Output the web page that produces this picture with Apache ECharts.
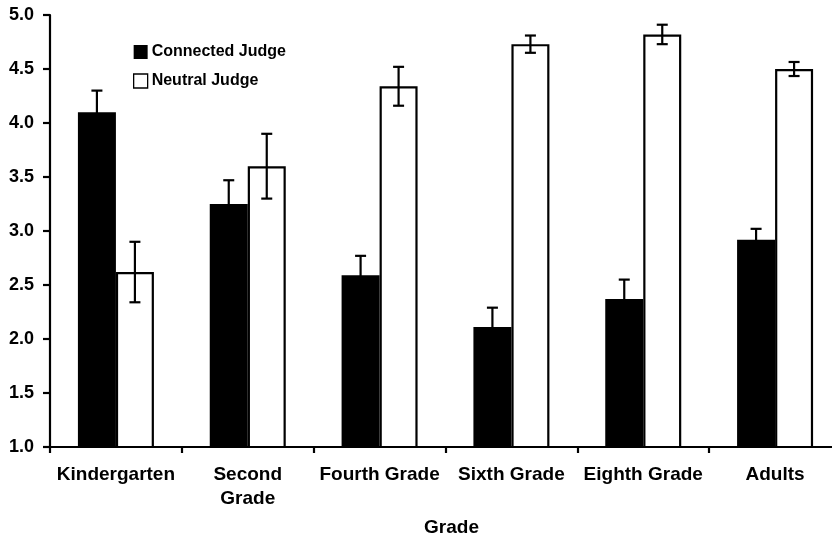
<!DOCTYPE html>
<html>
<head>
<meta charset="utf-8">
<script src="https://cdn.jsdelivr.net/npm/echarts@6/dist/echarts.min.js"></script>
<style>html,body{margin:0;padding:0;background:#fff;}#c{width:832px;height:540px;}</style>
</head>
<body>
<div id="c"></div>
<script>
var categories = ['Kindergarten', 'Second\nGrade', 'Fourth Grade', 'Sixth Grade', 'Eighth Grade', 'Adults'];
var connected = [4.10, 3.25, 2.59, 2.11, 2.37, 2.92];
var connectedErr = [0.20, 0.22, 0.18, 0.18, 0.18, 0.10];
var neutral = [2.62, 3.60, 4.34, 4.73, 4.82, 4.50];
var neutralErr = [0.28, 0.30, 0.18, 0.08, 0.09, 0.065];
var yTicks = [1.0, 1.5, 2.0, 2.5, 3.0, 3.5, 4.0, 4.5, 5.0];

var FONT = '"Liberation Sans", Arial, Helvetica, sans-serif';
var BAR_W = 38;

function errData(vals, errs) {
  return vals.map(function (v, i) { return [i, v, errs[i]]; });
}
function errRender(offset) {
  return function (params, api) {
    var i = api.value(0), v = api.value(1), e = api.value(2);
    var top = api.coord([i, v + e]);
    var bot = api.coord([i, v - e]);
    var x = top[0] + offset;
    var cap = 5.5;
    var st = { stroke: '#000', lineWidth: 2.2 };
    return {
      type: 'group',
      children: [
        { type: 'line', shape: { x1: x, y1: top[1], x2: x, y2: bot[1] }, style: st },
        { type: 'line', shape: { x1: x - cap, y1: top[1], x2: x + cap, y2: top[1] }, style: st },
        { type: 'line', shape: { x1: x - cap, y1: bot[1], x2: x + cap, y2: bot[1] }, style: st }
      ]
    };
  };
}

var chart = echarts.init(document.getElementById('c'), null, { renderer: 'canvas' });
chart.setOption({
  animation: false,
  backgroundColor: '#fff',
  textStyle: { fontFamily: FONT },
  legend: {
    orient: 'vertical',
    left: 133,
    top: 44,
    itemWidth: 14,
    itemHeight: 14,
    itemGap: 13,
    padding: 0,
    data: [
      { name: 'Connected Judge', icon: 'rect', itemStyle: { color: '#000', borderColor: '#000', borderWidth: 0 } },
      { name: 'Neutral Judge', icon: 'rect', itemStyle: { color: '#fff', borderColor: '#000', borderWidth: 1.3 } }
    ],
    textStyle: { fontFamily: FONT, fontWeight: 'bold', fontSize: 16, color: '#000', padding: [0, 0, 0, -1] }
  },
  grid: { left: 50, top: 15, width: 791, height: 432, containLabel: false, outerBoundsMode: 'none' },
  xAxis: {
    type: 'category',
    data: categories,
    name: 'Grade',
    nameLocation: 'middle',
    nameGap: 71,
    nameTextStyle: { fontFamily: FONT, fontWeight: 'bold', fontSize: 19, color: '#000', padding: [0, 0, 0, 12] },
    axisLine: { lineStyle: { color: '#000', width: 2.2 } },
    axisTick: { show: true, length: 6, lineStyle: { color: '#000', width: 2.2 } },
    axisLabel: { interval: 0, margin: 16, fontFamily: FONT, fontWeight: 'bold', fontSize: 19, color: '#000', lineHeight: 24 },
    splitLine: { show: false }
  },
  yAxis: {
    type: 'value',
    min: 1.0,
    max: 5.0,
    interval: 0.5,
    axisLine: { show: true, lineStyle: { color: '#000', width: 2.2 } },
    axisTick: { show: true, length: 7, lineStyle: { color: '#000', width: 2.2 } },
    axisLabel: {
      margin: 16, fontFamily: FONT, fontWeight: 'bold', fontSize: 18, color: '#000',
      formatter: function (v) { return v.toFixed(1); }
    },
    splitLine: { show: false }
  },
  series: [
    {
      name: 'Connected Judge', type: 'bar', data: connected, barWidth: BAR_W, barGap: '0%',
      itemStyle: { color: '#000', borderColor: '#000', borderWidth: 2 }
    },
    {
      name: 'Neutral Judge', type: 'bar', data: neutral, barWidth: BAR_W, barGap: '0%',
      itemStyle: { color: '#fff', borderColor: '#000', borderWidth: 2.2 }
    },
    {
      name: 'errC', type: 'custom', renderItem: errRender(-BAR_W / 2), data: errData(connected, connectedErr),
      encode: { x: 0, y: 1 }, z: 5, silent: true
    },
    {
      name: 'errN', type: 'custom', renderItem: errRender(BAR_W / 2), data: errData(neutral, neutralErr),
      encode: { x: 0, y: 1 }, z: 5, silent: true
    }
  ]
});
</script>
</body>
</html>
